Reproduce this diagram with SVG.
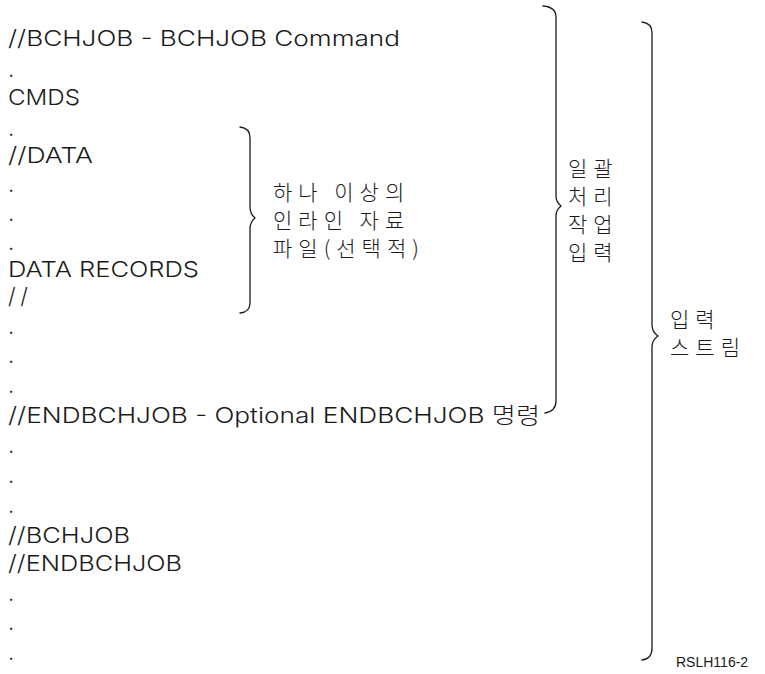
<svg xmlns="http://www.w3.org/2000/svg" width="765" height="674" viewBox="0 0 765 674">
  <style>
    .t { font-family: "Inter", "Liberation Sans", "Noto Sans CJK KR", sans-serif; font-weight: 300; font-size: 22px; fill: #1a1a1a; }
    .k { font-family: "Noto Sans CJK KR", "Liberation Sans", sans-serif; font-weight: 300; font-size: 21px; letter-spacing: 6px; fill: #1a1a1a; }
    .id { font-family: "Liberation Sans", sans-serif; font-size: 14px; fill: #1a1a1a; }
    .br { fill: none; stroke: #1a1a1a; stroke-width: 1.3; stroke-linecap: round; stroke-linejoin: round; }
  </style>
  <rect width="765" height="674" fill="#fff"/>
  <g id="listing">
    <text class="t" x="8" y="46" textLength="392" lengthAdjust="spacingAndGlyphs">//BCHJOB - BCHJOB Command</text>
    <text class="t" x="8" y="77">.</text>
    <text class="t" x="8" y="105" textLength="72" lengthAdjust="spacingAndGlyphs">CMDS</text>
    <text class="t" x="8" y="136">.</text>
    <text class="t" x="8" y="163" textLength="85" lengthAdjust="spacingAndGlyphs">//DATA</text>
    <text class="t" x="8" y="192">.</text>
    <text class="t" x="8" y="221">.</text>
    <text class="t" x="8" y="250">.</text>
    <text class="t" x="8" y="277" textLength="191" lengthAdjust="spacingAndGlyphs">DATA RECORDS</text>
    <text class="t" x="8" y="304" textLength="20" lengthAdjust="spacing">//</text>
    <text class="t" x="8" y="334">.</text>
    <text class="t" x="8" y="363">.</text>
    <text class="t" x="8" y="393">.</text>
    <text class="t" x="8" y="423" textLength="532" lengthAdjust="spacingAndGlyphs">//ENDBCHJOB - Optional ENDBCHJOB 명령</text>
    <text class="t" x="8" y="453">.</text>
    <text class="t" x="8" y="483">.</text>
    <text class="t" x="8" y="513">.</text>
    <text class="t" x="8" y="543" textLength="122" lengthAdjust="spacingAndGlyphs">//BCHJOB</text>
    <text class="t" x="8" y="571" textLength="174" lengthAdjust="spacingAndGlyphs">//ENDBCHJOB</text>
    <text class="t" x="8" y="601">.</text>
    <text class="t" x="8" y="630">.</text>
    <text class="t" x="8" y="660">.</text>
  </g>
  <g id="connectors">
    <path class="br" d="M240,127 Q250,128 250,138 L250,207 Q250,214 255,218 Q250,222 250,229 L250,303 Q250,312 240,313"/>
    <path class="br" d="M543,6 Q556,7 556,17 L556,196 Q556,202 561,206 Q556,210 556,216 L556,401 Q556,411 545,413"/>
    <path class="br" d="M642,22 Q652,23 652,33 L652,325 Q652,332 658,336 Q652,340 652,347 L652,648 Q652,659 642,660"/>
  </g>
  <g id="label-inline-data">
    <text class="k" x="273" y="200">하나 이상의</text>
    <text class="k" x="273" y="228">인라인 자료</text>
    <text class="k" x="273" y="256">파일(선택적)</text>
  </g>
  <g id="label-batch-input">
    <text class="k" x="568" y="176">일괄</text>
    <text class="k" x="568" y="204">처리</text>
    <text class="k" x="568" y="232">작업</text>
    <text class="k" x="568" y="260">입력</text>
  </g>
  <g id="label-input-stream">
    <text class="k" x="670" y="327">입력</text>
    <text class="k" x="670" y="355">스트림</text>
  </g>
  <text class="id" x="676" y="667">RSLH116-2</text>
</svg>
